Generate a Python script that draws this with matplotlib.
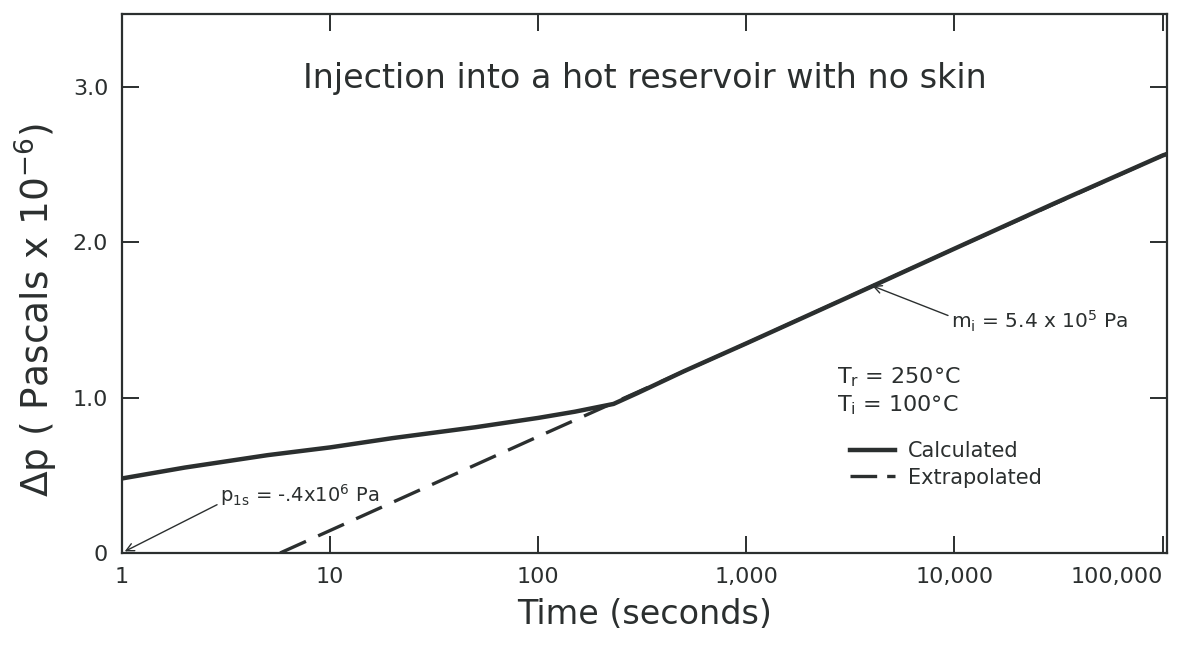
import matplotlib.pyplot as plt
from matplotlib.lines import Line2D
from matplotlib.ticker import FixedLocator, FixedFormatter

plt.rcParams['font.family'] = ['DejaVu Sans']
plt.rcParams['mathtext.default'] = 'regular'
INK = "#2b2f2f"

# Calculated curve (seconds, Pa x 1e-6)
calc_t = [1, 2, 5, 10, 20, 50, 100, 150, 230, 300, 500, 1000, 3000, 10000, 30000, 100000, 105000]
calc_p = [0.48, 0.55, 0.63, 0.68, 0.74, 0.81, 0.87, 0.91, 0.96, 1.03, 1.17, 1.35, 1.64, 1.96, 2.25, 2.56, 2.57]

# Extrapolated semilog straight line
extr_t = [5.75, 10, 100, 1000, 10000, 100000, 105000]
extr_p = [0.0, 0.145, 0.75, 1.35, 1.96, 2.56, 2.57]

x_ticks = [1, 10, 100, 1000, 10000, 100000]
x_labels = ["1", "10", "100", "1,000", "10,000", "100,000"]
y_ticks = [0, 1, 2, 3]
y_labels = ["0", "1.0", "2.0", "3.0"]

fig = plt.figure(figsize=(11.77, 6.46), dpi=100)
ax = fig.add_axes([0.1037, 0.144, 0.8878, 0.834])

ax.plot(extr_t, extr_p, color=INK, lw=2.4, dashes=(8.5, 4), zorder=2)
ax.plot(calc_t, calc_p, color=INK, lw=3.2, zorder=3)

ax.set_xscale("log")
ax.set_xlim(1, 105000)
ax.set_ylim(0, 3.47)

ax.xaxis.set_major_locator(FixedLocator(x_ticks))
ax.xaxis.set_major_formatter(FixedFormatter(x_labels))
ax.xaxis.set_minor_locator(FixedLocator([]))
ax.yaxis.set_major_locator(FixedLocator(y_ticks))
ax.yaxis.set_major_formatter(FixedFormatter(y_labels))
ax.tick_params(axis="both", which="major", direction="in", length=12, width=1.4,
               colors=INK, labelsize=16, top=True, right=True, pad=10)
for lab in ax.get_xticklabels():
    if lab.get_text() == "100,000":
        lab.set_horizontalalignment("right")

for s in ax.spines.values():
    s.set_color(INK)
    s.set_linewidth(1.6)

ax.set_xlabel("Time (seconds)", fontsize=24, color=INK, labelpad=8)
ax.set_ylabel(r"$\Delta$p ( Pascals x 10$^{-6}$)", fontsize=27, color=INK, labelpad=16)
ax.yaxis.set_label_coords(-0.059, 0.45)

ax.text(0.5, 0.88, "Injection into a hot reservoir with no skin", transform=ax.transAxes,
        ha="center", va="center", fontsize=24, color=INK)

ax.annotate(r"p$_{1s}$ = -.4x10$^{6}$ Pa", xy=(1.03, 0.01), xytext=(2.95, 0.37),
            fontsize=14, color=INK, va="center", ha="left",
            arrowprops=dict(arrowstyle="->", color=INK, lw=1.0, shrinkA=0, shrinkB=0,
                            mutation_scale=14, relpos=(0.0, 0.2)))
ax.annotate(r"m$_i$ = 5.4 x 10$^{5}$ Pa", xy=(4035, 1.72), xytext=(9600, 1.49),
            fontsize=14.5, color=INK, va="center", ha="left",
            arrowprops=dict(arrowstyle="->", color=INK, lw=1.0, shrinkA=0, shrinkB=0,
                            mutation_scale=14, relpos=(0.0, 0.7)))

ax.text(2740, 1.13, r"T$_r$ = 250°C", fontsize=16, color=INK, va="center")
ax.text(2740, 0.95, r"T$_i$ = 100°C", fontsize=16, color=INK, va="center")

# legend keys, with a dash pattern that shows two dashes in the short key
key_calc = Line2D([], [], color=INK, lw=3.2)
key_extr = Line2D([], [], color=INK, lw=2.4, dashes=(8, 3))
leg = ax.legend([key_calc, key_extr], ["Calculated", "Extrapolated"], loc="center left",
                bbox_to_anchor=(0.679, 0.164), frameon=False, fontsize=15,
                handlelength=2.15, handletextpad=0.6, labelspacing=0.3,
                labelcolor=INK)

fig.savefig("out.png", dpi=100, facecolor="white")
